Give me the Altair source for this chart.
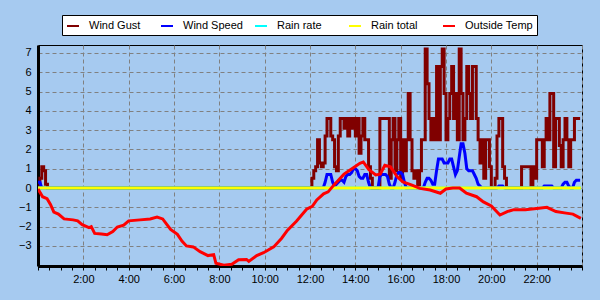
import altair as alt
import pandas as pd

series_names = ["Wind Gust", "Wind Speed", "Rain rate", "Rain total", "Outside Temp"]
series_colors = ["#800000", "#0000FF", "#00FFFF", "#FFFF00", "#FF0000"]
interpolations = ["step-after", "linear", "linear", "linear", "linear"]

# 5-minute samples, 0:00 .. 0:25
gust_early = [0, 0.5, 1.1, 0.9, 0.2, 0]
speed_early = [0.3, 0.3, 0.0, 0.0, 0.0, 0.0]

# 5-minute samples, 12:00 .. 23:55 (one row per hour)
gust_pm = (
    [0, 0.5, 0.9, 1.1, 2.5, 1.3, 1.1, 1.3, 2.7, 3.6, 3.6, 2.7]        # 12
    + [2.5, 1.1, 0.9, 2.7, 3.6, 3.6, 3.1, 3.6, 2.7, 3.6, 3.1, 3.6]    # 13
    + [2.7, 3.6, 1.8, 2.7, 3.6, 2.5, 2.5, 1.1, 0.5, 0, 0, 0]          # 14
    + [0, 3.6, 3.6, 3.6, 3.6, 3.6, 0.5, 2.5, 3.6, 0.9, 2.5, 3.6]      # 15
    + [0.5, 2.5, 0.9, 2.5, 4.9, 2.5, 0.9, 0.5, 0.9, 0, 0.9, 2.5]      # 16
    + [2.5, 7.2, 5.4, 3.6, 2.5, 3.6, 2.5, 6.3, 2.5, 6.3, 7.2, 4.9]    # 17
    + [2.5, 3.6, 4.9, 6.3, 3.6, 4.9, 2.5, 7.2, 4.9, 2.5, 3.6, 6.3]    # 18
    + [4.9, 3.6, 6.3, 6.3, 3.6, 2.5, 1.3, 2.5, 0.5, 2.5, 2.5, 1.1]    # 19
    + [0, 0, 0.5, 2.7, 3.6, 3.6, 1.1, 0.5, 0, 0, 0, 0]                # 20
    + [0, 0, 0, 0, 1.1, 1.1, 1.1, 1.1, 1.1, 0, 1.1, 0.5]              # 21
    + [2.5, 2.5, 2.5, 1.1, 2.5, 3.6, 2.5, 4.9, 4.9, 1.1, 3.6, 3.6]    # 22
    + [2.2, 1.1, 2.5, 3.6, 2.5, 1.1, 2.5, 2.5, 3.6, 3.6, 3.6, 3.6]    # 23
)
speed_pm = (
    [0, 0, 0, 0, 0, 0, 0, 0, 0.3, 0.7, 0.7, 0.7]                      # 12
    + [0.3, 0.1, 0.2, 0.3, 0.4, 0.4, 0.3, 0.6, 0.7, 0.7, 0.8, 1.0]    # 13
    + [1.0, 0.9, 0.6, 0.5, 0.5, 0.7, 0.7, 0.3, 0, 0, 0, 0]            # 14
    + [0, 0.6, 0.7, 0.7, 0.7, 0.6, 0.2, 0, 0, 0.3, 0.7, 0.8]          # 15
    + [0.8, 0.7, 0.3, 0, 0, 0, 0, 0, 0, 0, 0, 0]                      # 16
    + [0, 0.3, 0.5, 0.5, 0.4, 0.2, 0.2, 0.9, 1.5, 1.5, 1.5, 1.3]      # 17
    + [1.3, 1.3, 1.5, 1.5, 1.1, 0.7, 0.9, 1.6, 2.3, 2.3, 1.8, 1.0]    # 18
    + [0.9, 0.9, 0.9, 0.7, 0.5, 0.2, 0.1, 0, 0, 0, 0, 0]              # 19
    + [0, 0, 0, 0, 0.1, 0.1, 0.1, 0, 0, 0, 0, 0]                      # 20
    + [0, 0, 0, 0, 0, 0, 0, 0, 0, 0, 0, 0]                            # 21
    + [0, 0, 0, 0, 0.1, 0.1, 0.1, 0.1, 0.1, 0, 0, 0]                  # 22
    + [0, 0, 0.2, 0.3, 0.3, 0.1, 0, 0, 0.3, 0.4, 0.4, 0.4]            # 23
)

rain_hours = [0, 23.95]
rain_rate = [0, 0]
rain_total = [0, 0]

temp_hours = [0.0, 0.1, 0.2, 0.4, 0.55, 0.7, 0.9, 1.15, 1.55, 1.75, 1.95, 2.25, 2.35,
              2.5, 2.8, 3.05, 3.3, 3.5, 3.78, 4.0, 4.5, 4.95, 5.25, 5.5, 5.85, 6.15,
              6.35, 6.55, 6.85, 7.15, 7.5, 7.75, 7.85, 8.2, 8.55, 8.85, 9.2, 9.3,
              9.65, 9.95, 10.4, 10.75, 11.0, 11.4, 11.85, 12.1, 12.3, 12.6, 12.8,
              13.05, 13.5, 13.85, 14.2, 14.35, 14.6, 14.9, 15.1, 15.3, 15.55, 15.85,
              16.1, 16.5, 16.85, 17.3, 17.75, 18.0, 18.3, 18.6, 18.9, 19.35, 19.65,
              20.0, 20.38, 20.7, 21.0, 21.5, 22.1, 22.45, 22.85, 23.3, 23.6, 23.95]
temp_values = [-0.05, -0.25, -0.45, -0.55, -0.85, -1.25, -1.35, -1.6, -1.65, -1.7, -1.9,
               -2.05, -2.0, -2.35, -2.38, -2.42, -2.25, -2.02, -1.92, -1.7, -1.65, -1.6,
               -1.5, -1.6, -2.15, -2.4, -2.75, -3.0, -3.05, -3.3, -3.5, -3.45, -3.9,
               -4.0, -3.95, -3.72, -3.7, -3.8, -3.5, -3.35, -3.05, -2.6, -2.2, -1.72,
               -1.1, -0.95, -0.62, -0.3, -0.2, 0.15, 0.72, 1.0, 1.28, 1.35, 0.95, 0.68,
               0.72, 1.18, 1.1, 0.58, 0.32, 0.15, -0.02, -0.1, -0.27, -0.05, 0.0, 0.0,
               -0.27, -0.45, -0.72, -0.93, -1.4, -1.22, -1.12, -1.12, -1.05, -1.0,
               -1.22, -1.3, -1.35, -1.57]

x_tick_values = [i * 0.5 for i in range(49)]
y_tick_values = [-3, -2, -1, 0, 1, 2, 3, 4, 5, 6, 7]

early_times = [i * 5 / 60 for i in range(len(gust_early))]
pm_times = [12 + i * 5 / 60 for i in range(len(gust_pm))]

rows = []


def add(name, times, values):
    for t, v in zip(times, values):
        rows.append({"series": name, "t": t, "v": v})


add("Wind Gust", early_times + pm_times, gust_early + gust_pm)
add("Wind Speed", early_times + pm_times, speed_early + speed_pm)
add("Rain rate", rain_hours, rain_rate)
add("Rain total", rain_hours, rain_total)
add("Outside Temp", temp_hours, temp_values)
df = pd.DataFrame(rows)

FONT = "Liberation Sans"

x_enc = alt.X(
    "t:Q",
    scale=alt.Scale(domain=[0, 24], nice=False, zero=False),
    axis=alt.Axis(
        values=x_tick_values,
        labelExpr="(datum.value % 2 == 0 && datum.value > 0 && datum.value < 24) ? datum.value + ':00' : ''",
        title=None,
        grid=True,
        gridColor="#808080",
        gridDash=[4, 3],
        gridWidth=1,
        gridOpacity={"condition": {"test": "datum.value % 2 == 0", "value": 1}, "value": 0},
        tickSize=4,
        tickColor="black",
        domainColor="black",
        domainWidth=3,
        labelFont=FONT,
        labelFontSize=11,
        labelColor="black",
        labelPadding=3,
        labelFlush=False,
        labelOverlap=False,
    ),
)
y_enc = alt.Y(
    "v:Q",
    scale=alt.Scale(domain=[-4.04, 7.41], nice=False, zero=False),
    axis=alt.Axis(
        values=y_tick_values,
        title=None,
        grid=True,
        gridColor="#808080",
        gridDash=[4, 3],
        gridWidth=1,
        tickSize=0,
        domainColor="black",
        domainWidth=3,
        labelFont=FONT,
        labelFontSize=11,
        labelColor="black",
        labelPadding=7,
        labelOverlap=False,
    ),
)
color_enc = alt.Color(
    "series:N",
    scale=alt.Scale(domain=series_names, range=series_colors),
    legend=alt.Legend(
        title=None,
        orient="none",
        legendX=24,
        legendY=-30,
        direction="horizontal",
        columns=5,
        gridAlign="all",
        symbolType="stroke",
        symbolSize=144,
        symbolStrokeWidth=2,
        labelFont=FONT,
        labelFontSize=11,
        labelColor="black",
        labelOffset=9,
        labelLimit=300,
        columnPadding=0,
        padding=4,
        fillColor="white",
        strokeColor="black",
    ),
)

base = alt.Chart(df).encode(x=x_enc, y=y_enc, color=color_enc)
layers = []
for name, interp in zip(series_names, interpolations):
    layers.append(
        base.transform_filter(alt.datum.series == name).mark_line(
            interpolate=interp, strokeWidth=3, clip=True
        )
    )

chart = (
    alt.layer(*layers)
    .properties(
        width=544,
        height=221,
        padding={"left": 38, "top": 45, "right": 18, "bottom": 34},
        autosize=alt.AutoSizeParams(type="none"),
        background="#A6CAF0",
    )
    .configure_view(stroke="black", strokeWidth=1)
)

chart.save("out.html", embed_options={"renderer": "svg", "actions": False})
